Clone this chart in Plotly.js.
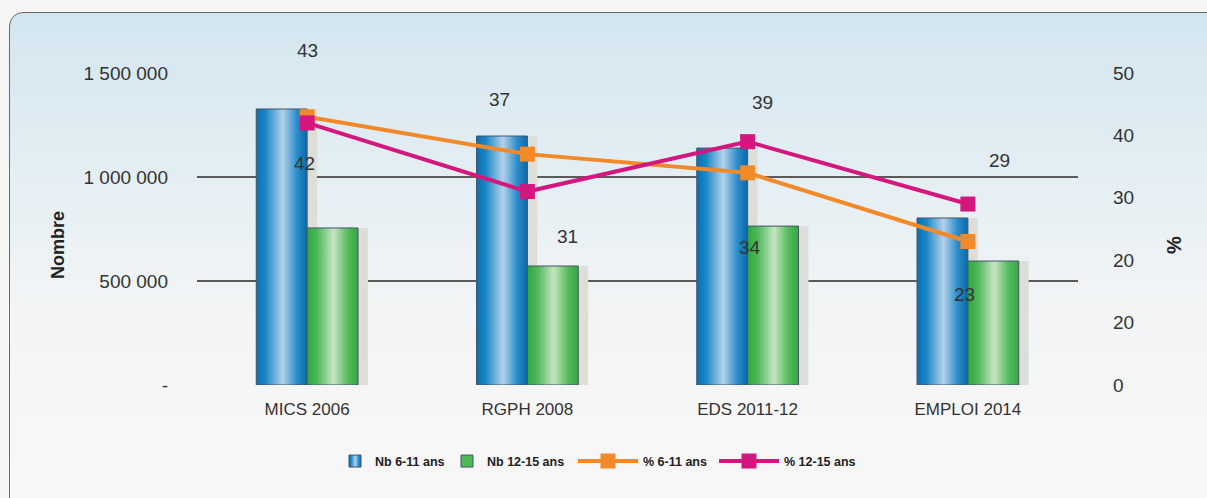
<!DOCTYPE html>
<html>
<head>
<meta charset="utf-8">
<script src="https://cdn.plot.ly/plotly-3.0.1.min.js"></script>
<style>
  html, body { margin:0; padding:0; width:1207px; height:498px; overflow:hidden; background:#f6f6f4; }
  #panel { position:absolute; left:9px; top:12px; width:1230px; height:520px; box-sizing:border-box;
    border:1.5px solid #6a6a6a; border-radius:14px;
    background:linear-gradient(to bottom, #d3e6f0 0%, #e3eef3 30%, #f1f4f5 55%, #f6f6f6 75%, #f7f7f7 100%); }
  #chart { position:absolute; left:0; top:0; width:1207px; height:498px; }
</style>
</head>
<body>
<div id="panel"></div>
<div id="chart"></div>
<svg width="0" height="0" style="position:absolute">
  <defs>
    <linearGradient id="gBlue" x1="0" y1="0" x2="1" y2="0">
      <stop offset="0" stop-color="#0a6fb2"/>
      <stop offset="0.18" stop-color="#1a86c6"/>
      <stop offset="0.52" stop-color="#b3d1ea"/>
      <stop offset="0.8" stop-color="#2a8dcb"/>
      <stop offset="1" stop-color="#0a68a8"/>
    </linearGradient>
    <linearGradient id="gGreen" x1="0" y1="0" x2="1" y2="0">
      <stop offset="0" stop-color="#2ea83f"/>
      <stop offset="0.2" stop-color="#4fb85a"/>
      <stop offset="0.52" stop-color="#c6e5c1"/>
      <stop offset="0.8" stop-color="#55bb5c"/>
      <stop offset="1" stop-color="#30a843"/>
    </linearGradient>
  </defs>
</svg>
<script>
// ---- data ----
const categories = ["MICS 2006", "RGPH 2008", "EDS 2011-12", "EMPLOI 2014"];
const nb611 = [1327000, 1197000, 1139000, 803000];
const nb1215 = [755000, 572000, 764000, 596000];
const pct611 = [43, 37, 34, 23];
const pct1215 = [42, 31, 39, 29];
const leftTickVals = [0, 500000, 1000000, 1500000];
const leftTickText = ["-", "500 000", "1 000 000", "1 500 000"];
const rightTickVals = [0, 10, 20, 30, 40, 50];
const rightTickText = ["0", "20", "20", "30", "40", "50"];
const seriesNames = ["Nb 6-11 ans", "Nb 12-15 ans", "% 6-11 ans", "% 12-15 ans"];

// ---- styles ----
const FONT = '"Liberation Sans Narrow", "Arial Narrow", "Liberation Sans", Arial, sans-serif';
const BW = 0.231;          // bar width in category units
const SH = 0.045;          // shadow horizontal offset
const SHY = 38000;         // shadow drop
const ORANGE = '#f28a2a', PINK = '#d4177f';
const lblShift611 = [[0, 66], [-28, 55], [2, -75], [-3, -53]];
const lblShift1215 = [[-3, -41], [40, -45], [15, 39], [32, 44]];

const shadow = (vals, off) => ({
  type:'bar', x:categories, y:vals.map(v => v + SHY), base:-SHY, width:BW, offset:off,
  marker:{color:'#deded9', line:{width:0}}, showlegend:false, hoverinfo:'skip'
});

const traces = [
  shadow(nb611, -BW + SH),
  shadow(nb1215, SH),
  {type:'bar', name:seriesNames[0], x:categories, y:nb611, width:BW, offset:-BW,
   marker:{color:'#1a86c6', line:{color:'#44546a', width:1}}, legend:'legend'},
  {type:'bar', name:seriesNames[1], x:categories, y:nb1215, width:BW, offset:0,
   marker:{color:'#4fb85a', line:{color:'#44546a', width:1}}, legend:'legend2'},
  {type:'scatter', mode:'lines+markers', name:seriesNames[2], x:categories, y:pct611, yaxis:'y2',
   line:{color:ORANGE, width:4}, marker:{symbol:'square', size:15, color:ORANGE}, cliponaxis:false, legend:'legend3'},
  {type:'scatter', mode:'lines+markers', name:seriesNames[3], x:categories, y:pct1215, yaxis:'y2',
   line:{color:PINK, width:4}, marker:{symbol:'square', size:15, color:PINK}, cliponaxis:false, legend:'legend4'}
];

const annotations = [];
pct611.forEach((v, i) => annotations.push({x:categories[i], y:v, xref:'x', yref:'y2', text:String(v),
  showarrow:false, xshift:lblShift611[i][0], yshift:lblShift611[i][1], font:{family:FONT, size:19, color:'#333'}}));
pct1215.forEach((v, i) => annotations.push({x:categories[i], y:v, xref:'x', yref:'y2', text:String(v),
  showarrow:false, xshift:lblShift1215[i][0], yshift:lblShift1215[i][1], font:{family:FONT, size:19, color:'#333'}}));

const legBase = {orientation:'h', yanchor:'middle', y:-0.245, xanchor:'left', bgcolor:'rgba(0,0,0,0)',
  font:{family:FONT, size:12.5, color:'#222', weight:'bold'}, borderwidth:0};
const px = p => (p - 197) / 881;

const layout = {
  width:1207, height:498,
  margin:{l:197, r:129, t:73, b:113},
  paper_bgcolor:'rgba(0,0,0,0)', plot_bgcolor:'rgba(0,0,0,0)',
  barmode:'overlay',
  font:{family:FONT, color:'#333'},
  xaxis:{type:'category', range:[-0.5, 3.5], showgrid:false, zeroline:false, showline:false,
    ticks:'', tickfont:{family:FONT, size:17, color:'#333'}, ticklabelstandoff:12},
  yaxis:{range:[0, 1500000], tickvals:leftTickVals, ticktext:leftTickText, showgrid:true,
    gridcolor:'#5a5a5a', gridwidth:1.4, zeroline:false, showline:false, ticks:'',
    tickfont:{family:FONT, size:19, color:'#333'}, ticklabelstandoff:28,
    title:{text:'Nombre', font:{family:FONT, size:18, color:'#222', weight:'bold'}, standoff:14}},
  yaxis2:{overlaying:'y', side:'right', range:[0, 50], tickvals:rightTickVals, ticktext:rightTickText,
    showgrid:false, zeroline:false, showline:false, ticks:'',
    tickfont:{family:FONT, size:19, color:'#333'}, ticklabelstandoff:34,
    title:{text:'%', font:{family:FONT, size:20, color:'#222', weight:'bold'}, standoff:33}},
  legend: Object.assign({}, legBase, {x:px(335), itemwidth:30}),
  legend2: Object.assign({}, legBase, {x:px(447), itemwidth:30}),
  legend3: Object.assign({}, legBase, {x:px(573), itemwidth:60}),
  legend4: Object.assign({}, legBase, {x:px(714), itemwidth:60}),
  annotations: annotations,
  showlegend:true
};

Plotly.newPlot('chart', traces, layout, {staticPlot:true, displayModeBar:false}).then(gd => {
  const groups = gd.querySelectorAll('.barlayer .trace');
  const fills = [null, null, 'url(#gBlue)', 'url(#gGreen)'];
  groups.forEach((g, i) => {
    if (fills[i]) g.querySelectorAll('path').forEach(p => { p.style.fill = fills[i]; });
  });
  gd.querySelectorAll('.legend').forEach(lg => {
    const t = lg.querySelector('.legendtext');
    if (!t) return;
    const name = t.textContent;
    const f = name === seriesNames[0] ? 'url(#gBlue)' : name === seriesNames[1] ? 'url(#gGreen)' : null;
    if (f) lg.querySelectorAll('.legendpoints path').forEach(p => { p.style.fill = f; });
    const line = lg.querySelector('.legendlines path');
    const mk = lg.querySelector('.legendpoints path');
    if (line && mk) {
      const lr = line.getBoundingClientRect(), mr = mk.getBoundingClientRect();
      const cx = mr.left + mr.width / 2;
      const m = /M\s*([-\d.]+)/.exec(line.getAttribute('d') || '');
      const x0 = m ? parseFloat(m[1]) : 5;
      const off = lr.left - x0;
      line.setAttribute('d', 'M' + (cx - 23.5 - off) + ',0h47');
    }
  });
  ['.g-ytitle', '.g-y2title'].forEach(s => {
    const g = gd.querySelector(s);
    if (g) g.setAttribute('transform', 'translate(0,16)');
  });
});
</script>
</body>
</html>
